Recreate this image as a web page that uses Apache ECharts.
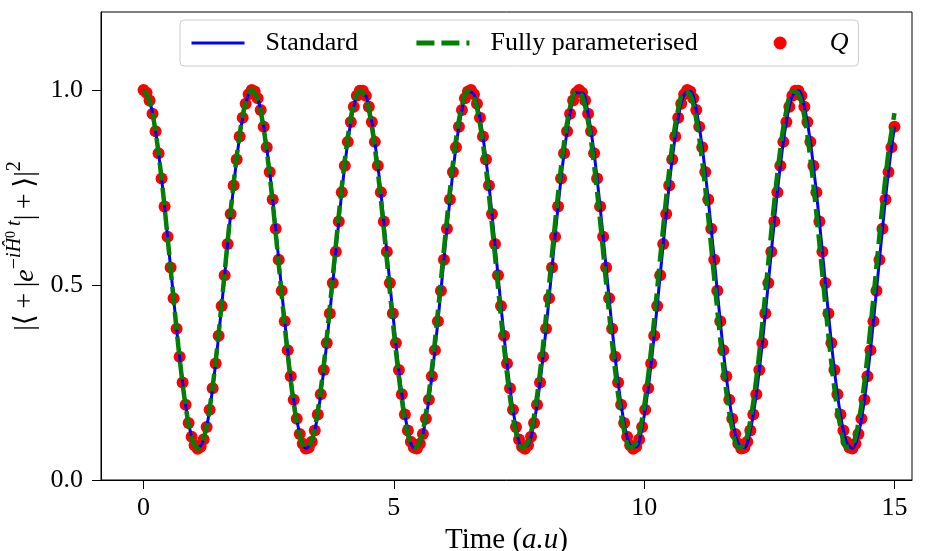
<!DOCTYPE html>
<html><head><meta charset="utf-8">
<script src="https://cdn.jsdelivr.net/npm/echarts@6/dist/echarts.min.js"></script>
<style>html,body{margin:0;padding:0;background:#fff}#c{width:925px;height:551px}</style>
</head><body><div id="c"></div>
<script>
// Q points (sample times and values)
const timeQ = [
0.00,0.06,0.12,0.18,0.24,0.30,0.36,0.42,0.48,0.54,
0.60,0.66,0.72,0.78,0.84,0.90,0.96,1.02,1.08,1.14,
1.20,1.26,1.32,1.38,1.44,1.50,1.56,1.62,1.68,1.74,
1.80,1.86,1.92,1.98,2.04,2.10,2.16,2.22,2.28,2.34,
2.40,2.46,2.52,2.58,2.64,2.70,2.76,2.82,2.88,2.94,
3.00,3.06,3.12,3.18,3.24,3.30,3.36,3.42,3.48,3.54,
3.60,3.66,3.72,3.78,3.84,3.90,3.96,4.02,4.08,4.14,
4.20,4.26,4.32,4.38,4.44,4.50,4.56,4.62,4.68,4.74,
4.80,4.86,4.92,4.98,5.04,5.10,5.16,5.22,5.28,5.34,
5.40,5.46,5.52,5.58,5.64,5.70,5.76,5.82,5.88,5.94,
6.00,6.06,6.12,6.18,6.24,6.30,6.36,6.42,6.48,6.54,
6.60,6.66,6.72,6.78,6.84,6.90,6.96,7.02,7.08,7.14,
7.20,7.26,7.32,7.38,7.44,7.50,7.56,7.62,7.68,7.74,
7.80,7.86,7.92,7.98,8.04,8.10,8.16,8.22,8.28,8.34,
8.40,8.46,8.52,8.58,8.64,8.70,8.76,8.82,8.88,8.94,
9.00,9.06,9.12,9.18,9.24,9.30,9.36,9.42,9.48,9.54,
9.60,9.66,9.72,9.78,9.84,9.90,9.96,10.02,10.08,10.14,
10.20,10.26,10.32,10.38,10.44,10.50,10.56,10.62,10.68,10.74,
10.80,10.86,10.92,10.98,11.04,11.10,11.16,11.22,11.28,11.34,
11.40,11.46,11.52,11.58,11.64,11.70,11.76,11.82,11.88,11.94,
12.00,12.06,12.12,12.18,12.24,12.30,12.36,12.42,12.48,12.54,
12.60,12.66,12.72,12.78,12.84,12.90,12.96,13.02,13.08,13.14,
13.20,13.26,13.32,13.38,13.44,13.50,13.56,13.62,13.68,13.74,
13.80,13.86,13.92,13.98,14.04,14.10,14.16,14.22,14.28,14.34,
14.40,14.46,14.52,14.58,14.64,14.70,14.76,14.82,14.88,14.94,
15.00];
const qValues = [
1.000,0.993,0.973,0.939,0.894,0.838,0.773,0.701,0.624,0.545,
0.466,0.388,0.316,0.250,0.193,0.146,0.111,0.089,0.080,0.085,
0.104,0.136,0.180,0.235,0.299,0.370,0.446,0.525,0.605,0.682,
0.755,0.822,0.881,0.929,0.965,0.989,1.000,0.996,0.979,0.949,
0.906,0.853,0.790,0.719,0.644,0.565,0.485,0.407,0.333,0.266,
0.206,0.157,0.118,0.093,0.081,0.083,0.098,0.127,0.168,0.220,
0.282,0.351,0.427,0.505,0.585,0.663,0.738,0.806,0.867,0.918,
0.957,0.985,0.998,0.998,0.985,0.957,0.918,0.867,0.806,0.738,
0.663,0.585,0.505,0.427,0.351,0.282,0.220,0.168,0.127,0.098,
0.083,0.081,0.093,0.118,0.157,0.206,0.266,0.333,0.407,0.485,
0.565,0.644,0.719,0.790,0.853,0.906,0.949,0.979,0.996,1.000,
0.989,0.965,0.929,0.881,0.822,0.755,0.682,0.605,0.525,0.446,
0.370,0.299,0.235,0.180,0.136,0.104,0.085,0.080,0.089,0.111,
0.146,0.193,0.250,0.316,0.388,0.466,0.545,0.624,0.701,0.773,
0.838,0.894,0.939,0.973,0.993,1.000,0.993,0.973,0.939,0.894,
0.838,0.773,0.701,0.624,0.545,0.466,0.388,0.316,0.250,0.193,
0.146,0.111,0.089,0.080,0.085,0.104,0.136,0.180,0.235,0.299,
0.370,0.446,0.525,0.605,0.682,0.755,0.822,0.881,0.929,0.965,
0.989,1.000,0.996,0.979,0.949,0.906,0.853,0.790,0.719,0.644,
0.565,0.485,0.407,0.333,0.266,0.206,0.157,0.118,0.093,0.081,
0.083,0.098,0.127,0.168,0.220,0.282,0.351,0.427,0.505,0.585,
0.663,0.738,0.806,0.867,0.918,0.957,0.985,0.998,0.998,0.985,
0.957,0.918,0.867,0.806,0.738,0.663,0.585,0.505,0.427,0.351,
0.282,0.220,0.168,0.127,0.098,0.083,0.081,0.093,0.118,0.157,
0.206,0.266,0.333,0.407,0.485,0.565,0.644,0.719,0.790,0.853,
0.906];
// Curves (sample times shared by both lines)
const timeLine = [
0.00,0.12,0.24,0.36,0.48,0.60,0.72,0.84,0.96,1.08,
1.20,1.32,1.44,1.56,1.68,1.80,1.92,2.04,2.16,2.28,
2.40,2.52,2.64,2.76,2.88,3.00,3.12,3.24,3.36,3.48,
3.60,3.72,3.84,3.96,4.08,4.20,4.32,4.44,4.56,4.68,
4.80,4.92,5.04,5.16,5.28,5.40,5.52,5.64,5.76,5.88,
6.00,6.12,6.24,6.36,6.48,6.60,6.72,6.84,6.96,7.08,
7.20,7.32,7.44,7.56,7.68,7.80,7.92,8.04,8.16,8.28,
8.40,8.52,8.64,8.76,8.88,9.00,9.12,9.24,9.36,9.48,
9.60,9.72,9.84,9.96,10.08,10.20,10.32,10.44,10.56,10.68,
10.80,10.92,11.04,11.16,11.28,11.40,11.52,11.64,11.76,11.88,
12.00,12.12,12.24,12.36,12.48,12.60,12.72,12.84,12.96,13.08,
13.20,13.32,13.44,13.56,13.68,13.80,13.92,14.04,14.16,14.28,
14.40,14.52,14.64,14.76,14.88,15.00];
const standardValues = [
1.000,0.973,0.894,0.773,0.624,0.466,0.316,0.193,0.111,0.080,
0.104,0.180,0.299,0.446,0.605,0.755,0.881,0.965,1.000,0.979,
0.906,0.790,0.644,0.485,0.333,0.206,0.118,0.081,0.098,0.168,
0.282,0.427,0.585,0.738,0.867,0.957,0.998,0.985,0.918,0.806,
0.663,0.505,0.351,0.220,0.127,0.083,0.093,0.157,0.266,0.407,
0.565,0.719,0.853,0.949,0.996,0.989,0.929,0.822,0.682,0.525,
0.370,0.235,0.136,0.085,0.089,0.146,0.250,0.388,0.545,0.701,
0.838,0.939,0.993,0.993,0.939,0.838,0.701,0.545,0.388,0.250,
0.146,0.089,0.085,0.136,0.235,0.370,0.525,0.682,0.822,0.929,
0.989,0.996,0.949,0.853,0.719,0.565,0.407,0.266,0.157,0.093,
0.083,0.127,0.220,0.351,0.505,0.663,0.806,0.918,0.985,0.998,
0.957,0.867,0.738,0.585,0.427,0.282,0.168,0.098,0.081,0.118,
0.206,0.333,0.485,0.644,0.790,0.906];
const paramValues = [
1.000,0.972,0.893,0.772,0.622,0.463,0.313,0.190,0.109,0.080,
0.106,0.184,0.304,0.453,0.612,0.762,0.886,0.969,1.000,0.976,
0.900,0.781,0.633,0.474,0.322,0.197,0.113,0.080,0.102,0.177,
0.295,0.442,0.601,0.753,0.879,0.965,0.999,0.979,0.906,0.790,
0.643,0.484,0.332,0.205,0.117,0.081,0.099,0.170,0.286,0.432,
0.591,0.743,0.872,0.960,0.999,0.982,0.913,0.799,0.653,0.495,
0.341,0.212,0.122,0.082,0.096,0.164,0.277,0.421,0.580,0.734,
0.864,0.956,0.998,0.985,0.919,0.807,0.664,0.505,0.351,0.219,
0.126,0.083,0.094,0.158,0.268,0.411,0.569,0.724,0.857,0.951,
0.997,0.988,0.925,0.816,0.674,0.516,0.361,0.227,0.131,0.084,
0.091,0.152,0.260,0.401,0.559,0.714,0.849,0.947,0.996,0.990,
0.931,0.824,0.684,0.527,0.371,0.235,0.136,0.085,0.089,0.147,
0.251,0.391,0.548,0.704,0.841,0.941];
const xTicks = [0, 5, 10, 15];
const yTicks = [0, 0.5, 1.0];
const seriesNames = ['Standard', 'Fully parameterised', 'Q'];

const FONT = "'Liberation Serif','DejaVu Serif',serif";
const chart = echarts.init(document.getElementById('c'), null, {renderer: 'canvas'});
const pairs = (xs, ys) => xs.map((x, i) => [x, ys[i]]);
const DASH = [18, 7];
const HIDE_SYMBOL = {opacity: 0, color: 'rgba(0,0,0,0)', borderWidth: 0};
// legend marker: a dot centred in a handle-wide box (the tiny end segments only set the box width)
const DOT_ICON = 'path://M0,6.5L0.01,6.5ZM20,6.5a6.5,6.5 0 1,0 13,0a6.5,6.5 0 1,0 -13,0ZM53,6.5L52.99,6.5Z';

chart.setOption({
  animation: false,
  backgroundColor: '#ffffff',
  grid: {left: 101, right: 13, top: 12, bottom: 71, outerBoundsMode: 'none', containLabel: false,
    show: true, borderColor: '#000', borderWidth: 1, backgroundColor: 'transparent'},
  legend: {
    left: 180, top: 20, orient: 'horizontal',
    itemWidth: 53, itemHeight: 13, itemGap: 56,
    padding: [9, 10, 9, 10],
    borderColor: '#cccccc', borderWidth: 1, borderRadius: 4,
    backgroundColor: 'rgba(255,255,255,0.8)',
    textStyle: {fontFamily: FONT, fontSize: 26, lineHeight: 28, color: '#000', padding: [0, 0, 0, 16]},
    data: [
      {name: seriesNames[0], itemStyle: HIDE_SYMBOL, lineStyle: {width: 3, color: '#0000ff'}},
      {name: seriesNames[1], itemStyle: HIDE_SYMBOL, lineStyle: {width: 5, color: '#008000', type: DASH}},
      {name: seriesNames[2], icon: DOT_ICON,
        itemStyle: {color: '#ff0000', opacity: 1},
        textStyle: {fontFamily: FONT, fontSize: 26, lineHeight: 28, fontStyle: 'italic', color: '#000', padding: [0, 0, 0, 18]}}
    ]
  },
  xAxis: {
    type: 'value', min: -0.85, max: 15.35,
    axisLine: {show: true, onZero: false, lineStyle: {color: '#000', width: 1}},
    axisTick: {show: true, customValues: xTicks, length: 9, lineStyle: {color: '#000', width: 1}},
    axisLabel: {customValues: xTicks, fontFamily: FONT, fontSize: 26, color: '#000', margin: 15},
    splitLine: {show: false},
    name: '{n|Time (}{i|a.u}{n|)}', nameLocation: 'middle', nameGap: 39,
    nameTextStyle: {rich: {
      n: {fontFamily: FONT, fontSize: 29, color: '#000'},
      i: {fontFamily: FONT, fontSize: 29, fontStyle: 'italic', color: '#000'}
    }}
  },
  yAxis: {
    type: 'value', min: 0, max: 1.2,
    axisLine: {show: true, onZero: false, lineStyle: {color: '#000', width: 1}},
    axisTick: {show: true, customValues: yTicks, length: 9, lineStyle: {color: '#000', width: 1}},
    axisLabel: {customValues: yTicks, fontFamily: FONT, fontSize: 26, color: '#000', margin: 18,
      formatter: v => v.toFixed(1)},
    splitLine: {show: false},
    name: '{m||⟨\u2009+\u2009|}{i|e}{s|−}{si|iĤ}{ss|0}{si| t}{m||\u2009+\u2009⟩|}{p|2}',
    nameLocation: 'middle', nameGap: 54, nameRotate: 90,
    nameTextStyle: {rich: {
      m: {fontFamily: FONT, fontSize: 28, color: '#000', lineHeight: 42, verticalAlign: 'middle'},
      i: {fontFamily: FONT, fontSize: 28, fontStyle: 'italic', color: '#000', lineHeight: 42, verticalAlign: 'middle'},
      s: {fontFamily: FONT, fontSize: 20, color: '#000', lineHeight: 20, verticalAlign: 'top'},
      si: {fontFamily: FONT, fontSize: 20, fontStyle: 'italic', color: '#000', lineHeight: 20, verticalAlign: 'top'},
      ss: {fontFamily: FONT, fontSize: 14, color: '#000', lineHeight: 36, verticalAlign: 'top'},
      p: {fontFamily: FONT, fontSize: 20, color: '#000', lineHeight: 18, verticalAlign: 'top'}
    }}
  },
  series: [
    {name: 'Q', type: 'scatter', data: pairs(timeQ, qValues), symbol: 'circle', symbolSize: 12,
      itemStyle: {color: '#ff0000', opacity: 1}, z: 1, silent: true},
    {name: 'Standard', type: 'line', data: pairs(timeLine, standardValues), smooth: 0.35, symbol: 'none',
      lineStyle: {color: '#0000ff', width: 3}, itemStyle: {color: '#0000ff'}, z: 2},
    {name: 'Fully parameterised', type: 'line', data: pairs(timeLine, paramValues), smooth: 0.35, symbol: 'none',
      lineStyle: {color: '#008000', width: 4.5, type: DASH}, itemStyle: {color: '#008000'}, z: 3}
  ]
});
</script></body></html>
